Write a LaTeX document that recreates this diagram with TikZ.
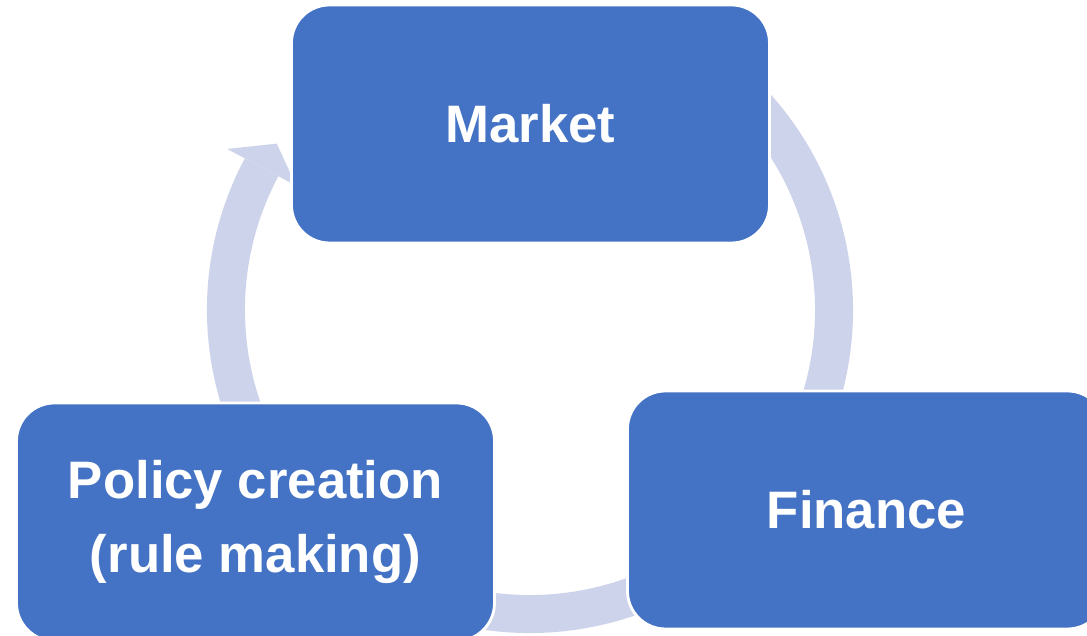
\documentclass[tikz,border=0pt]{standalone}
\usepackage{fontspec}
\setmainfont{Liberation Sans}
\usetikzlibrary{calc}
\definecolor{stageblue}{HTML}{4472C4}
\definecolor{cycleblue}{HTML}{CDD3EA}

\begin{document}
\begin{tikzpicture}[line join=round]
\tikzset{stage/.style={draw=white, line width=0.8pt, fill=stageblue, rounded corners=0.38cm,
    minimum width=4.78cm, minimum height=2.38cm, inner sep=0pt, align=center,
    text=white, font=\fontsize{15}{21.3}\selectfont\bfseries},
  cycle/.style={fill=cycleblue}}

% page (cm, origin top left)
\clip (0,0) rectangle (10.87,-6.36);

% centre of the cycle ring
\coordinate (hub) at (5.30,-3.10);

% ring (clockwise, tail hidden under the top stage) and its head
\fill[cycle] ($(hub)+(152:3.23)$) arc[start angle=152, end angle=420, radius=3.23]
  -- ($(hub)+(420:2.85)$) arc[start angle=420, end angle=152, radius=2.85] -- cycle;
\fill[cycle] ($(hub)+(152:3.43)$) -- ($(hub)+(146.7:3.03)$) -- ($(hub)+(152:2.65)$) -- cycle;

% stages
\node[stage] (market)  at (5.305,-1.24) {Market};
\node[stage] (finance) at (8.665,-5.10) {Finance};
\node[stage] (policy)  at (2.555,-5.22) {Policy creation\\(rule making)};
\end{tikzpicture}
\end{document}
